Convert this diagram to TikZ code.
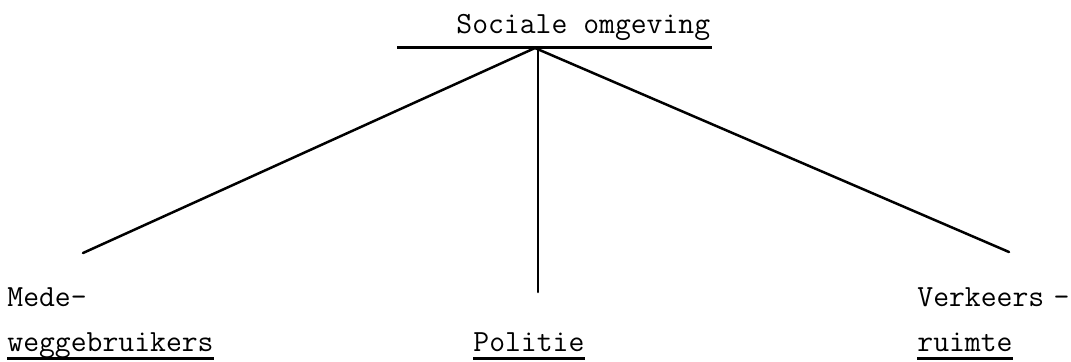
\documentclass[tikz,border=0pt]{standalone}
\usepackage{tikz}
\usetikzlibrary{positioning}

\tikzset{
  label/.style={anchor=base west, inner sep=0pt, text depth=3.5pt,
    font=\ttfamily\fontsize{15.4}{22.5}\selectfont},
  tak/.style={line width=1.25pt, line cap=round},
  streep/.style={line width=1.3pt}
}

\begin{document}
\begin{tikzpicture}[x=0.5pt, y=-0.5pt]

\useasboundingbox (0,0) rectangle (1071,361);

% Kop
\node[label] (sociaal) at (456,33) {Sociale omgeving};
\coordinate (balkL) at (397,47);
\coordinate (balkR) at (712,47);
\coordinate (top) at (535,48);
\coordinate (topM) at (538,50);
\draw[line width=1.5pt] (balkL) -- (balkR);

% Uiteinden van de takken
\coordinate (eindL) at (83,253);
\coordinate (eindM) at (538,292);
\coordinate (eindR) at (1009,252);

% Takken
\draw[tak] (top) -- (eindL);
\draw[tak] (topM) -- (eindM);
\draw[tak] (top) -- (eindR);

% Onderste labels
\node[label] (mede) at (7,306) {Mede-};
\node[label] (weg) at (7,351) {weggebruikers};
\node[label] (politie) at (473,351) {Politie};
\node[label] (verkeer) at (917,306) {Verkeers\hspace{0.3em}-};
\node[label] (ruimte) at (917,351) {ruimte};

% Onderstrepingen
\draw[streep] (weg.south west) -- (weg.south east);
\draw[streep] (politie.south west) -- (politie.south east);
\draw[streep] (ruimte.south west) -- (ruimte.south east);

\end{tikzpicture}
\end{document}
